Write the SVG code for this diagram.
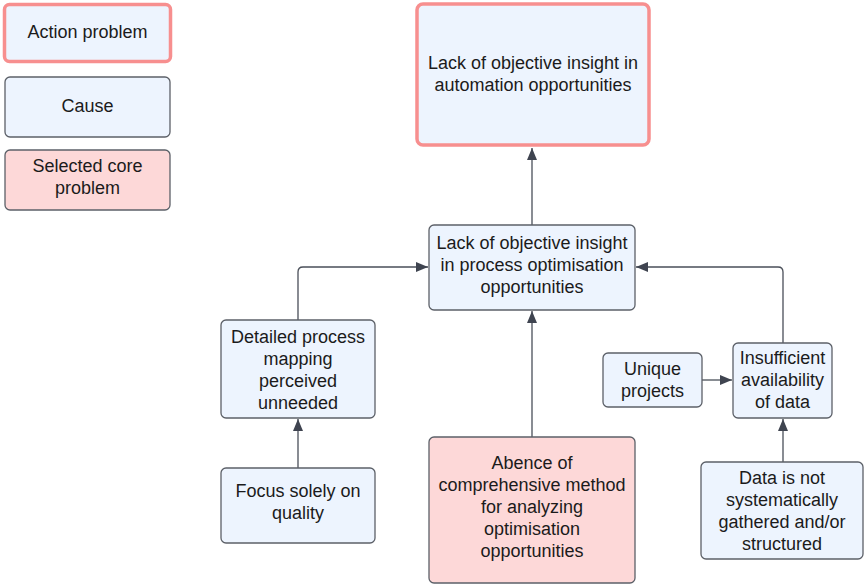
<svg xmlns="http://www.w3.org/2000/svg" width="865" height="586" viewBox="0 0 865 586">
<defs>
<marker id="arr" viewBox="0 0 12 10" refX="12" refY="5" markerWidth="12" markerHeight="10" markerUnits="userSpaceOnUse" orient="auto">
<path d="M0,0 L12,5 L0,10 Z" fill="#3f4450"/>
</marker>
<style>
.cause{fill:#edf4fe;stroke:#5c6068;stroke-width:1.3}
.core{fill:#fdd8d8;stroke:#5c6068;stroke-width:1.3}
.action{fill:#edf4fe;stroke:#f78f8f;stroke-width:3.5}
text{font-family:"Liberation Sans",Arial,sans-serif;font-size:18px;fill:#1b1b1b;text-anchor:middle}
.conn path{fill:none;stroke:#4a4f59;stroke-width:1.3;marker-end:url(#arr)}
</style>
</defs>
<rect width="865" height="586" fill="#ffffff"/>
<g id="legend-action">
<rect class="action" x="4.5" y="4.5" width="166" height="57" rx="5"/>
<text x="87.5" y="38">Action problem</text>
</g>
<g id="legend-cause">
<rect class="cause" x="5" y="77" width="165" height="60" rx="5"/>
<text x="87.5" y="112">Cause</text>
</g>
<g id="legend-core">
<rect class="core" x="5" y="150" width="165" height="60" rx="5"/>
<text x="87.5" y="172">Selected core</text>
<text x="87.5" y="194">problem</text>
</g>
<g class="conn" id="connectors">
<path d="M532,225 L532,148"/>
<path d="M532,437 L532,311"/>
<path d="M298,320 L298,272 Q298,267 303,267 L428,267"/>
<path d="M783,343 L783,272 Q783,267 778,267 L636,267"/>
<path d="M702,380 L732,380"/>
<path d="M783,462 L783,419"/>
<path d="M298,468 L298,419"/>
</g>
<g id="top">
<rect class="action" x="417" y="4" width="232" height="141" rx="6"/>
<text x="533" y="69">Lack of objective insight in</text>
<text x="533" y="91">automation opportunities</text>
</g>
<g id="middle">
<rect class="cause" x="429" y="225" width="206" height="85" rx="5"/>
<text x="532" y="249">Lack of objective insight</text>
<text x="532" y="271">in process optimisation</text>
<text x="532" y="293">opportunities</text>
</g>
<g id="detailed">
<rect class="cause" x="221" y="320" width="154" height="98" rx="5"/>
<text x="298" y="343">Detailed process</text>
<text x="298" y="365">mapping</text>
<text x="298" y="387">perceived</text>
<text x="298" y="409">unneeded</text>
</g>
<g id="focus">
<rect class="cause" x="221" y="468" width="154" height="75" rx="5"/>
<text x="298" y="497">Focus solely on</text>
<text x="298" y="519">quality</text>
</g>
<g id="abence">
<rect class="core" x="429" y="437" width="206" height="146" rx="5"/>
<text x="532" y="469">Abence of</text>
<text x="532" y="491">comprehensive method</text>
<text x="532" y="513">for analyzing</text>
<text x="532" y="535">optimisation</text>
<text x="532" y="557">opportunities</text>
</g>
<g id="unique">
<rect class="cause" x="603" y="353" width="99" height="54" rx="5"/>
<text x="652.5" y="375">Unique</text>
<text x="652.5" y="397">projects</text>
</g>
<g id="insufficient">
<rect class="cause" x="733" y="343" width="99" height="75" rx="5"/>
<text x="782.5" y="364">Insufficient</text>
<text x="782.5" y="386">availability</text>
<text x="782.5" y="408">of data</text>
</g>
<g id="data">
<rect class="cause" x="701" y="462" width="162" height="97" rx="5"/>
<text x="782" y="484">Data is not</text>
<text x="782" y="506">systematically</text>
<text x="782" y="528">gathered and/or</text>
<text x="782" y="550">structured</text>
</g>
</svg>
